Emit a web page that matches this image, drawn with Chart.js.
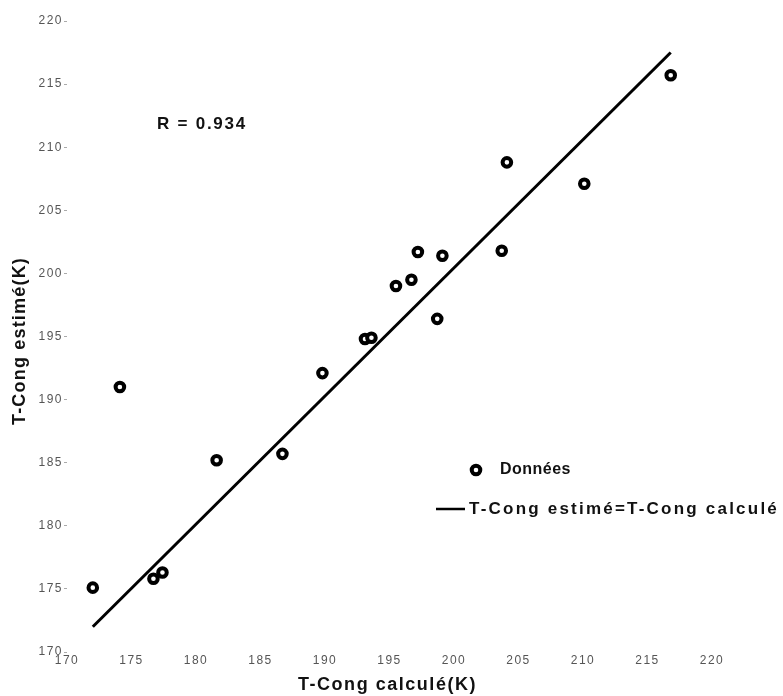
<!DOCTYPE html>
<html>
<head>
<meta charset="utf-8">
<script src="https://cdn.jsdelivr.net/npm/chart.js@4/dist/chart.umd.min.js"></script>
<style>
  html, body { margin: 0; padding: 0; background: #fff; }
  canvas { display: block; }
</style>
</head>
<body>
<canvas id="chart" width="783" height="696"></canvas>
<script>
  /* --- Data --- */
  var calcValues = [172.0, 174.1, 176.7, 177.4, 181.6, 186.7, 189.8, 193.1, 193.6, 195.5, 196.7, 197.2, 198.7, 199.1, 203.7, 204.1, 210.1, 216.8];
  var estValues  = [175.1, 191.0, 175.8, 176.3, 185.2, 185.7, 192.1, 194.8, 194.9, 199.0, 199.5, 201.7, 196.4, 201.4, 201.8, 208.8, 207.1, 215.7];
  var lineCalc = [172.0, 216.8];
  var lineEst  = [172.0, 217.5];
  var xTicks = [170, 175, 180, 185, 190, 195, 200, 205, 210, 215, 220];
  var yTicks = [170, 175, 180, 185, 190, 195, 200, 205, 210, 215, 220];
  var seriesLabels = ['Donn\u00e9es', 'T-Cong estim\u00e9=T-Cong calcul\u00e9'];
  var xTitle = 'T-Cong calcul\u00e9(K)';
  var yTitle = 'T-Cong estim\u00e9(K)';
  var rText = 'R = 0.934';

  var FONT = '"Liberation Sans", Arial, Helvetica, sans-serif';

  function toPoints(xs, ys) {
    return xs.map(function (x, i) { return { x: x, y: ys[i] }; });
  }

  function fixedTicks(values) {
    return function (scale) {
      scale.ticks = values.map(function (v) { return { value: v }; });
    };
  }

  // the figure's lettering is widely spaced: stretch a string to a given width
  function fitText(ctx, text, x, y, width) {
    ctx.letterSpacing = '0px';
    var w = ctx.measureText(text).width;
    var n = Array.from(text).length;
    ctx.letterSpacing = ((width - w) / n) + 'px';
    ctx.fillText(text, x, y);
  }

  /* --- Spacing for tick labels drawn by the scales --- */
  var spacingPlugin = {
    id: 'spacing',
    beforeDraw: function (chart) {
      chart.ctx.letterSpacing = '1.5px';
    }
  };

  /* --- Axis titles, R value and legend --- */
  var annotationPlugin = {
    id: 'annotations',
    afterDraw: function (chart) {
      var ctx = chart.ctx;
      var pts = chart.data.datasets[0];
      var ln = chart.data.datasets[1];
      ctx.save();
      ctx.fillStyle = '#111';
      ctx.textBaseline = 'middle';
      ctx.textAlign = 'left';

      // axis titles
      ctx.font = 'bold 18px ' + FONT;
      fitText(ctx, xTitle, 298, 685, 179);
      ctx.save();
      ctx.translate(20, 341);
      ctx.rotate(-Math.PI / 2);
      fitText(ctx, yTitle, -84, 0, 168);
      ctx.restore();

      ctx.font = 'bold 17px ' + FONT;
      fitText(ctx, rText, 157, 124, 90);

      // legend: marker entry
      ctx.beginPath();
      ctx.arc(476, 470, pts.pointRadius, 0, Math.PI * 2);
      ctx.fillStyle = pts.pointBackgroundColor;
      ctx.fill();
      ctx.lineWidth = pts.pointBorderWidth;
      ctx.strokeStyle = pts.pointBorderColor;
      ctx.stroke();

      ctx.fillStyle = '#111';
      ctx.font = 'bold 16px ' + FONT;
      fitText(ctx, seriesLabels[0], 500, 470, 71);

      // legend: line entry
      ctx.beginPath();
      ctx.moveTo(436, 509);
      ctx.lineTo(465, 509);
      ctx.lineWidth = 2.5;
      ctx.strokeStyle = ln.borderColor;
      ctx.stroke();
      ctx.font = 'bold 17px ' + FONT;
      fitText(ctx, seriesLabels[1], 469, 509, 310);
      ctx.restore();
    }
  };

  var ctx = document.getElementById('chart').getContext('2d');
  new Chart(ctx, {
    type: 'scatter',
    data: {
      datasets: [{
        label: seriesLabels[0],
        data: toPoints(calcValues, estValues),
        pointRadius: 4.3,
        pointBorderWidth: 4,
        pointBackgroundColor: '#fff',
        pointBorderColor: '#000',
        showLine: false
      }, {
        label: seriesLabels[1],
        data: toPoints(lineCalc, lineEst),
        showLine: true,
        pointRadius: 0,
        borderColor: '#000',
        borderWidth: 3
      }]
    },
    options: {
      responsive: false,
      animation: false,
      layout: { padding: { top: 21, right: 71, bottom: 0, left: 0 } },
      plugins: {
        legend: { display: false },
        tooltip: { enabled: false }
      },
      scales: {
        x: {
          type: 'linear',
          min: 170,
          max: 220,
          afterBuildTicks: fixedTicks(xTicks),
          afterFit: function (scale) { scale.height = 44; },
          grid: { drawOnChartArea: false, drawTicks: false },
          border: { display: false },
          ticks: {
            color: '#555',
            padding: 1,
            maxRotation: 0,
            autoSkip: false,
            font: { family: FONT, size: 12 }
          }
        },
        y: {
          type: 'linear',
          min: 170,
          max: 220,
          afterBuildTicks: fixedTicks(yTicks),
          afterFit: function (scale) { scale.width = 67; },
          grid: { drawOnChartArea: false, drawTicks: true, tickLength: 3, color: '#aaa' },
          border: { display: false },
          ticks: {
            color: '#555',
            padding: 1,
            autoSkip: false,
            font: { family: FONT, size: 12 }
          }
        }
      }
    },
    plugins: [spacingPlugin, annotationPlugin]
  });
</script>
</body>
</html>
